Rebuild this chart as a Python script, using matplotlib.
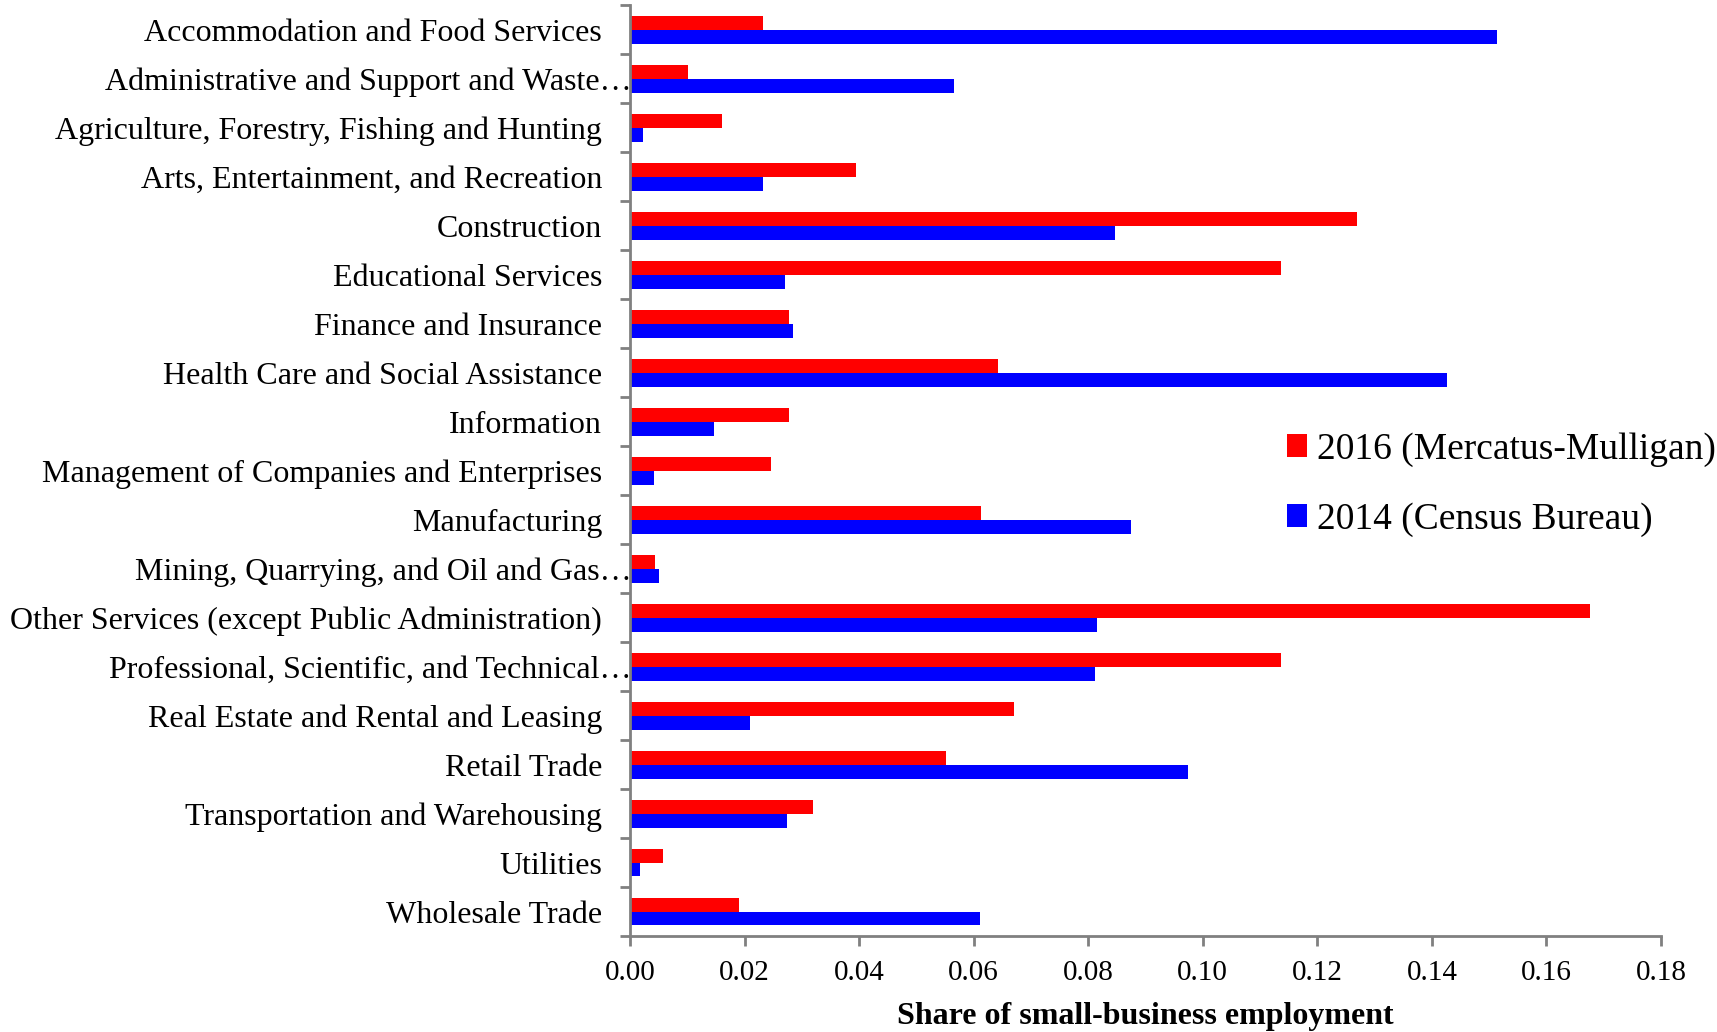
import numpy as np
import matplotlib.pyplot as plt
from matplotlib.transforms import ScaledTranslation

categories = [
    "Accommodation and Food Services",
    "Administrative and Support and Waste\u2026",
    "Agriculture, Forestry, Fishing and Hunting",
    "Arts, Entertainment, and Recreation",
    "Construction",
    "Educational Services",
    "Finance and Insurance",
    "Health Care and Social Assistance",
    "Information",
    "Management of Companies and Enterprises",
    "Manufacturing",
    "Mining, Quarrying, and Oil and Gas\u2026",
    "Other Services (except Public Administration)",
    "Professional, Scientific, and Technical\u2026",
    "Real Estate and Rental and Leasing",
    "Retail Trade",
    "Transportation and Warehousing",
    "Utilities",
    "Wholesale Trade",
]
share_2016 = [0.0233, 0.0101, 0.0161, 0.0394, 0.1269, 0.1137, 0.0277, 0.0642,
              0.0277, 0.0247, 0.0612, 0.0044, 0.1676, 0.1137, 0.0671, 0.0552,
              0.0320, 0.0058, 0.0190]
share_2014 = [0.1513, 0.0566, 0.0023, 0.0233, 0.0847, 0.0271, 0.0285, 0.1426,
              0.0147, 0.0042, 0.0875, 0.0051, 0.0816, 0.0812, 0.0209, 0.0975,
              0.0275, 0.0017, 0.0611]
label_2016 = "2016 (Mercatus-Mulligan)"
label_2014 = "2014 (Census Bureau)"
xticks = [0.00, 0.02, 0.04, 0.06, 0.08, 0.10, 0.12, 0.14, 0.16, 0.18]

plt.rcParams["font.family"] = ["Liberation Serif", "DejaVu Serif"]

fig = plt.figure(figsize=(17.17, 10.32), dpi=100)
ax = fig.add_axes([0.3669, 0.093, 0.6005, 0.902])

y = np.arange(len(categories))
h = 0.285
ax.barh(y - h / 2, share_2016, height=h, color="#ff0000", label=label_2016)
ax.barh(y + h / 2, share_2014, height=h, color="#0000ff", label=label_2014)

ax.set_ylim(len(categories) - 0.5, -0.5)
ax.set_xlim(0, 0.18)
ax.set_xticks(xticks)
ax.set_xticklabels([f"{t:.2f}" for t in xticks], fontsize=21)
ax.set_yticks(y)
ax.set_yticklabels(categories, fontsize=23)
ax.set_yticks(np.arange(len(categories) + 1) - 0.5, minor=True)
ax.tick_params(axis="y", which="major", length=0, pad=20)
ax.tick_params(axis="y", which="minor", length=7, width=2, color="#808080")
ax.tick_params(axis="x", length=7, width=2, color="#808080", pad=10)

# truncated labels run right up to the axis line
shift = ScaledTranslation(0.29, 0, fig.dpi_scale_trans)
for lab in ax.get_yticklabels():
    if lab.get_text().endswith("\u2026"):
        lab.set_transform(lab.get_transform() + shift)

for s in ["top", "right"]:
    ax.spines[s].set_visible(False)
for s in ["left", "bottom"]:
    ax.spines[s].set_color("#808080")
    ax.spines[s].set_linewidth(2)

ax.set_xlabel("Share of small-business employment", fontsize=23,
              fontweight="bold", labelpad=12)

ax.legend(loc="center left", bbox_to_anchor=(0.637, 0.485), frameon=False,
          fontsize=27, handlelength=0.55, handleheight=0.55, handletextpad=0.25,
          labelspacing=0.95, borderaxespad=0, borderpad=0)

fig.savefig("out.png", dpi=100)
